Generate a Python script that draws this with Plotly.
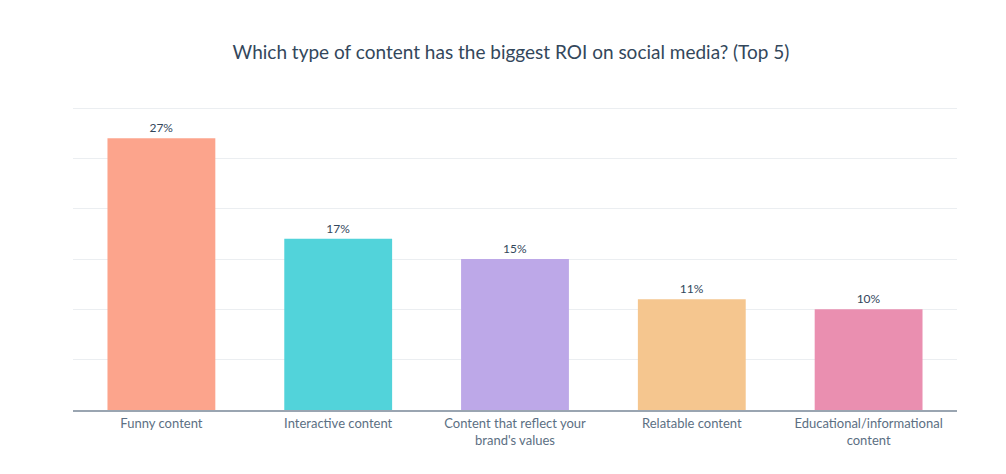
import plotly.graph_objects as go

categories = ["Funny content", "Interactive content", "Content that reflect your<br>brand's values",
              "Relatable content", "Educational/informational<br>content"]
values = [27, 17, 15, 11, 10]
labels = ["27%", "17%", "15%", "11%", "10%"]
colors = ["#FCA48C", "#52D3DA", "#BDA8E8", "#F5C68F", "#EA8FB0"]

W, H = 990, 458

fig = go.Figure(go.Bar(
    x=categories, y=values, text=labels, textposition="outside",
    marker=dict(color=colors, line=dict(width=0)),
    width=0.61, cliponaxis=False,
    textfont=dict(family="Lato", size=12, color="#33475B"),
))

fig.update_layout(
    width=W, height=H,
    margin=dict(l=65, r=W - 949, t=99, b=H - 402),
    paper_bgcolor="white", plot_bgcolor="white",
    title=dict(text="Which type of content has the biggest ROI on social media? (Top 5)",
               x=503 / W, xanchor="center", y=1 - 44 / H, yanchor="middle",
               font=dict(family="Lato", size=19, color="#33475B")),
    showlegend=False,
    font=dict(family="Lato"),
)
fig.update_yaxes(range=[0, 30.1], dtick=5, showticklabels=False, showgrid=True,
                 gridcolor="#EBEEF1", gridwidth=1, zeroline=False, fixedrange=True)
fig.update_xaxes(showline=True, linecolor="#9AA5B1", linewidth=2, ticks="",
                 tickfont=dict(family="Lato", size=13, color="#5C6F83"))

fig.write_html("out.html")
